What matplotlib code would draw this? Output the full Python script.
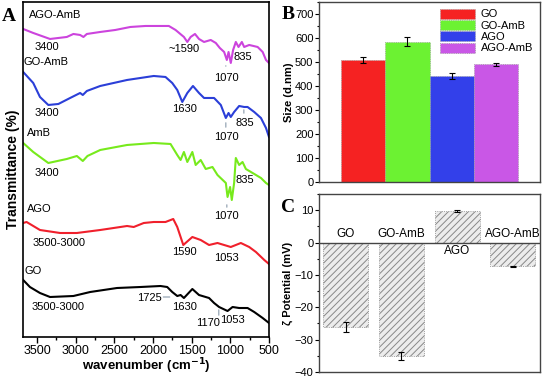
import numpy as np
import matplotlib
matplotlib.use("Agg")
import matplotlib.pyplot as plt
from matplotlib.ticker import MultipleLocator

plt.rcParams['font.family'] = ['Liberation Sans', 'DejaVu Sans']

# FTIR spectra (wavenumber, transmittance in arbitrary stacked units)
wn_agoamb = [3678, 3548, 3331, 3114, 3029, 2942, 2899, 2855, 2682, 2487, 2292, 2097, 1994, 1795,
             1708, 1600, 1556, 1513, 1457, 1405, 1340, 1253, 1188, 1136, 1080, 1045, 1023, 994,
             964, 929, 894, 851, 821, 756, 647, 582, 539, 500]
t_agoamb = [308, 304, 298, 300, 303, 302, 300, 303, 305, 307, 310, 311, 311, 311,
            307, 300, 295, 300, 303, 298, 295, 297, 294, 289, 285, 277, 285, 274,
            287, 295, 290, 295, 290, 292, 290, 285, 277, 274]

wn_goamb = [3678, 3548, 3461, 3353, 3223, 3071, 2942, 2907, 2855, 2682, 2335, 2162, 1990, 1838,
            1751, 1686, 1621, 1556, 1483, 1405, 1340, 1210, 1123, 1058, 1023, 994, 951, 886,
            821, 777, 691, 604, 539, 500]
t_goamb = [265, 254, 240, 232, 233, 239, 244, 242, 246, 251, 257, 259, 261, 260,
           254, 247, 235, 244, 251, 244, 239, 239, 232, 219, 224, 220, 225, 231,
           230, 230, 225, 219, 209, 200]

wn_amb = [3678, 3548, 3353, 3114, 2984, 2907, 2847, 2682, 2335, 1990, 1773, 1686, 1643, 1600,
          1556, 1491, 1448, 1383, 1318, 1231, 1166, 1058, 1036, 1003, 981, 951, 929, 886,
          842, 799, 712, 604, 539, 500]
t_amb = [194, 185, 174, 178, 181, 176, 181, 187, 192, 194, 193, 182, 177, 185,
         175, 185, 172, 177, 168, 170, 162, 154, 140, 150, 137, 154, 179, 172,
         175, 168, 164, 159, 154, 152]

wn_ago = [3678, 3634, 3569, 3461, 3201, 2984, 2682, 2335, 2249, 2119, 1990, 1838, 1738, 1686,
          1608, 1491, 1383, 1275, 1166, 1080, 994, 864, 756, 669, 561, 500]
t_ago = [114, 115, 112, 107, 104, 104, 107, 111, 110, 114, 115, 115, 118, 110,
         92, 100, 97, 92, 94, 92, 90, 94, 90, 85, 77, 73]

wn_go = [3678, 3591, 3461, 3331, 3029, 2812, 2465, 2162, 1903, 1816, 1751, 1686, 1643, 1600,
         1491, 1405, 1275, 1210, 1145, 1036, 971, 886, 777, 691, 582, 500]
t_go = [57, 50, 44, 40, 41, 45, 49, 50, 51, 50, 45, 41, 42, 39,
        48, 42, 39, 34, 30, 26, 30, 29, 29, 25, 19, 14]

# DLS size and zeta potential
samples = ["GO", "GO-AmB", "AGO", "AGO-AmB"]
size = [507, 585, 442, 490]
size_err = [12, 18, 12, 7]
zeta = [-26, -35, 9.8, -7.4]
zeta_err = [1.5, 1.2, 0.3, 0.25]

bar_colors = ["#f52222", "#6cf232", "#3340ea", "#c957e6"]

fig = plt.figure(figsize=(5.43, 3.79), dpi=100)

# ---------- panel A ----------
axA = fig.add_axes([0.0424, 0.1108, 0.453, 0.884])
axA.plot(wn_agoamb, t_agoamb, color="#cc44dd", lw=1.5)
axA.plot(wn_goamb, t_goamb, color="#2b3fd8", lw=1.5)
axA.plot(wn_amb, t_amb, color="#77ea1c", lw=1.5)
axA.plot(wn_ago, t_ago, color="#f0202c", lw=1.5)
axA.plot(wn_go, t_go, color="black", lw=1.5)
axA.set_xlim(3680, 500)
axA.set_ylim(0, 335)
axA.set_yticks([])
axA.xaxis.set_major_locator(MultipleLocator(500))
axA.xaxis.set_minor_locator(MultipleLocator(250))
axA.tick_params(axis="x", labelsize=9, length=4, width=1, pad=1.5)
axA.tick_params(axis="x", which="minor", length=2, width=1)
for s in axA.spines.values():
    s.set_linewidth(1.2)
axA.set_xlabel("wavenumber (cm$^{\\mathbf{-1}}$)", fontsize=9.5, fontweight="bold", labelpad=0)
axA.set_ylabel("Transmittance (%)", fontsize=10, fontweight="bold", labelpad=2)

labels_A = [
    ("AGO-AmB", 3604, 322), ("3400", 3526, 290), ("~1590", 1799, 288), ("1070", 1214, 259),
    ("835", 955, 280), ("GO-AmB", 3669, 275), ("3400", 3526, 224), ("1630", 1747, 228),
    ("1070", 1214, 200), ("835", 929, 214), ("AmB", 3630, 204), ("3400", 3526, 164),
    ("835", 929, 157), ("1070", 1214, 121), ("AGO", 3630, 128), ("3500-3000", 3552, 94),
    ("1590", 1747, 85), ("1053", 1214, 79), ("GO", 3656, 66), ("3500-3000", 3565, 30),
    ("1725", 2201, 39), ("1630", 1747, 30), ("1170", 1448, 14), ("1053", 1136, 17),
]
for txt, x, y in labels_A:
    axA.text(x, y, txt, fontsize=8, ha="left", va="center")

leader_lines = [((1058, 274), (1058, 268)), ((1058, 217), (1058, 207)), ((825, 230), (825, 221)),
                ((1045, 135), (1045, 127)), ((1903, 40), (1747, 40)), ((1149, 30), (1149, 19))]
for p0, p1 in leader_lines:
    axA.annotate("", xy=p0, xytext=p1, arrowprops=dict(arrowstyle="-", color="#8899aa", lw=0.8))

fig.text(0.004, 0.945, "A", fontsize=14, fontweight="bold", family="Liberation Serif")

# ---------- panel B ----------
axB = fig.add_axes([0.5875, 0.5198, 0.407, 0.4749])
xB = np.arange(1, len(samples) + 1)
axB.bar(xB, size, width=1.0, color=bar_colors, edgecolor="#999999", linewidth=0.6,
        linestyle=":", label=samples)
axB.errorbar(xB, size, yerr=size_err, fmt="none", ecolor="black", elinewidth=0.8,
             capsize=2, capthick=0.8)
axB.set_xlim(0, 5)
axB.set_ylim(0, 750)
axB.set_xticks([])
axB.yaxis.set_major_locator(MultipleLocator(100))
axB.yaxis.set_minor_locator(MultipleLocator(50))
axB.tick_params(axis="y", labelsize=8, length=3, width=0.8, pad=1)
axB.tick_params(axis="y", which="minor", length=1.5, width=0.8)
for s in axB.spines.values():
    s.set_linewidth(1.0)
    s.set_color("#444444")
axB.set_ylabel("Size (d.nm)", fontsize=8, fontweight="bold", labelpad=1)
axB.legend(loc="upper right", fontsize=8, frameon=False, handlelength=3.2, handleheight=1.0,
           labelspacing=0.05, handletextpad=0.5, borderaxespad=0.2)
fig.text(0.518, 0.95, "B", fontsize=14, fontweight="bold", family="Liberation Serif")

# ---------- panel C ----------
axC = fig.add_axes([0.5875, 0.0185, 0.407, 0.4696])
xC = np.arange(1, len(samples) + 1)
plt.rcParams['hatch.color'] = "#888888"
plt.rcParams['hatch.linewidth'] = 0.7
axC.bar(xC, zeta, width=0.81, color="#ececec", edgecolor="#888888", linewidth=0.6,
        linestyle=":", hatch="/////")
axC.errorbar(xC, zeta, yerr=zeta_err, fmt="none", ecolor="black", elinewidth=0.8,
             capsize=2, capthick=0.8)
axC.axhline(0, color="#444444", lw=1.0)
axC.set_xlim(0.52, 4.49)
axC.set_ylim(-40, 15)
axC.set_xticks([])
axC.yaxis.set_major_locator(MultipleLocator(10))
axC.yaxis.set_minor_locator(MultipleLocator(5))
axC.tick_params(axis="y", labelsize=8, length=3, width=0.8, pad=1)
axC.tick_params(axis="y", which="minor", length=1.5, width=0.8)
for s in axC.spines.values():
    s.set_linewidth(1.0)
    s.set_color("#444444")
axC.set_ylabel("ζ Potential (mV)", fontsize=8, fontweight="bold", labelpad=1)
for xi, name, v in zip(xC, samples, zeta):
    if v > 0:
        axC.text(xi, -0.8, name, ha="center", va="top", fontsize=8.5)
    else:
        axC.text(xi, 0.8, name, ha="center", va="bottom", fontsize=8.5)
fig.text(0.518, 0.44, "C", fontsize=14, fontweight="bold", family="Liberation Serif")

fig.savefig("out.png", dpi=100)
